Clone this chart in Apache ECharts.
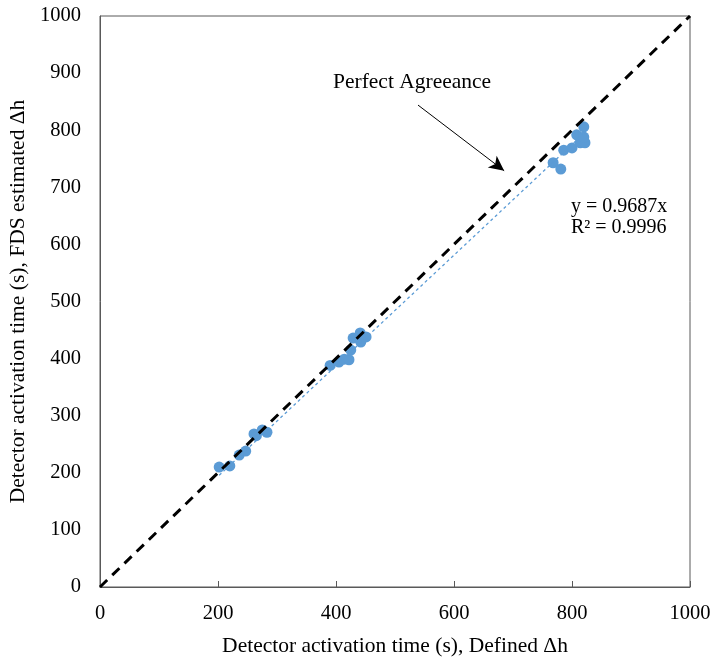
<!DOCTYPE html>
<html>
<head>
<meta charset="utf-8">
<script src="https://cdn.jsdelivr.net/npm/echarts@6/dist/echarts.min.js"></script>
<style>
  html, body { margin: 0; padding: 0; background: #fff; }
  #chart { width: 712px; height: 658px; }
</style>
</head>
<body>
<div id="chart"></div>
<script>
// Defined Δh activation times (s)
const definedTimes = [
  202, 220, 236, 247, 261, 265, 275, 283,
  390, 405, 414, 422, 425, 429, 441, 442, 451,
  768, 781, 786, 800, 808, 820, 814, 822, 820
];
// FDS estimated Δh activation times (s)
const fdsTimes = [
  210, 212, 231, 238, 268, 265, 275, 271,
  388, 394, 399, 398, 415, 436, 445, 429, 438,
  743, 732, 765, 769, 792, 806, 778, 778, 788
];
const xTicks = [0, 200, 400, 600, 800, 1000];
const yTicks = [0, 100, 200, 300, 400, 500, 600, 700, 800, 900, 1000];
const trendSlope = 0.9687;
const trendR2 = 0.9996;
const agreementLine = [[0, 0], [1000, 1000]];
const arrowFrom = [539, 844];
const arrowTo = [685, 729];

const points = definedTimes.map((x, i) => [x, fdsTimes[i]]);
const xMin = Math.min(...definedTimes);
const xMax = Math.max(...definedTimes);
const trendLine = [[xMin, trendSlope * xMin], [xMax, trendSlope * xMax]];

const serif = '"Liberation Serif", "DejaVu Serif", serif';
const chart = echarts.init(document.getElementById('chart'));

chart.setOption({
  animation: false,
  grid: {
    left: 100, right: 22, top: 16, bottom: 71,
    outerBoundsMode: 'none', containLabel: false,
    show: true, borderColor: '#595959', borderWidth: 1
  },
  xAxis: {
    type: 'value', min: xTicks[0], max: xTicks[xTicks.length - 1], interval: 200,
    name: 'Detector activation time (s), Defined Δh',
    nameLocation: 'middle', nameGap: 48,
    nameTextStyle: { fontFamily: serif, fontSize: 21.5, color: '#000' },
    axisLine: { show: true, lineStyle: { color: '#595959' } },
    axisTick: { show: true, inside: true, length: 6, lineStyle: { color: '#595959' } },
    axisLabel: { fontFamily: serif, fontSize: 20.5, color: '#000', margin: 16, formatter: v => String(v) },
    splitLine: { show: false }
  },
  yAxis: {
    type: 'value', min: yTicks[0], max: yTicks[yTicks.length - 1], interval: 100,
    name: 'Detector activation time (s), FDS estimated Δh',
    nameLocation: 'middle', nameGap: 69,
    nameTextStyle: { fontFamily: serif, fontSize: 21.5, color: '#000' },
    axisLine: { show: true, lineStyle: { color: '#595959' } },
    axisTick: { show: false },
    axisLabel: { fontFamily: serif, fontSize: 20.5, color: '#000', margin: 19, formatter: v => String(v) },
    splitLine: { show: false }
  },
  series: [
    {
      name: 'Activation time',
      type: 'scatter',
      data: points,
      symbol: 'circle',
      symbolSize: 11,
      itemStyle: { color: '#5B9BD5', opacity: 1 },
      z: 2
    },
    {
      name: 'Trendline',
      type: 'line',
      data: trendLine,
      symbol: 'none',
      lineStyle: { color: '#5B9BD5', width: 1.3, type: [3, 3] },
      z: 3
    },
    {
      name: 'Perfect agreement',
      type: 'line',
      data: agreementLine,
      symbol: 'none',
      lineStyle: { color: '#000', width: 3, type: [10, 7] },
      z: 4,
      markLine: {
        silent: true,
        symbol: ['none', 'arrow'],
        symbolSize: [11, 15],
        label: { show: false },
        lineStyle: { color: '#000', width: 1, type: 'solid' },
        data: [[{ coord: arrowFrom }, { coord: arrowTo }]]
      }
    }
  ],
  graphic: [
    {
      type: 'text', left: 333, top: 71,
      style: { text: 'Perfect Agreeance', font: '21.5px ' + serif, fill: '#000' }
    },
    {
      type: 'text', left: 571, top: 197,
      style: { text: 'y = ' + trendSlope + 'x', font: '20px ' + serif, fill: '#000' }
    },
    {
      type: 'text', left: 571, top: 218,
      style: { text: 'R² = ' + trendR2, font: '20px ' + serif, fill: '#000' }
    }
  ]
});
</script>
</body>
</html>
